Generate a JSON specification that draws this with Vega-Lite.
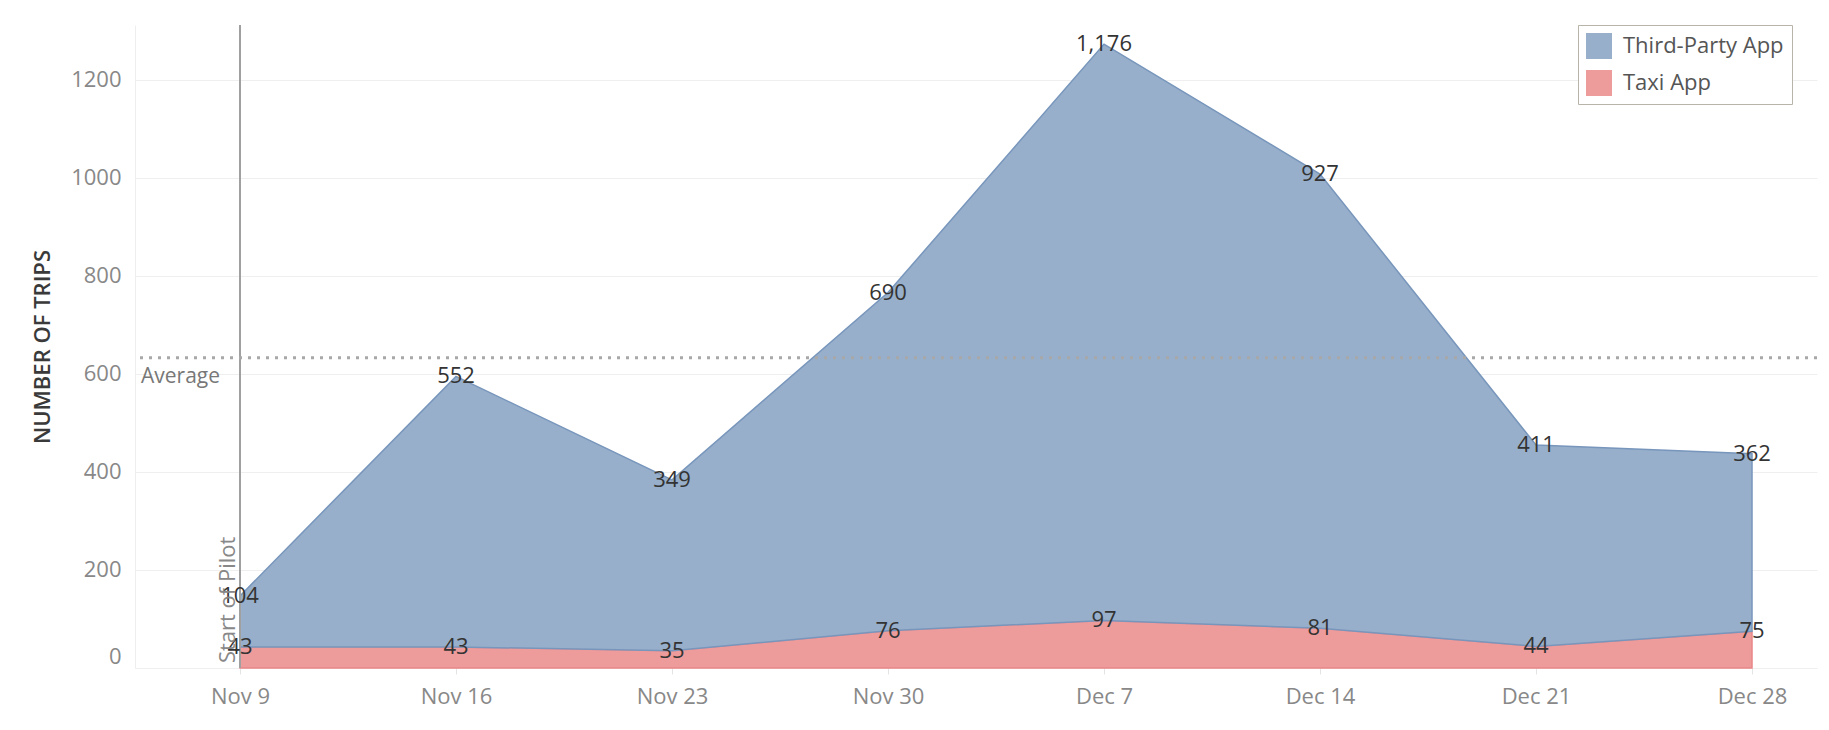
{
  "$schema": "https://vega.github.io/schema/vega-lite/v6.json",
  "width": 1682,
  "height": 643,
  "autosize": {"type": "none"},
  "padding": {"left": 135, "top": 25, "right": 12, "bottom": 62},
  "background": "white",
  "config": {"font": "Open Sans", "view": {"stroke": null}},
  "datasets": {
    "trips": [
      {"week": "2014-11-09", "app": "Taxi App", "trips": 43},
      {"week": "2014-11-16", "app": "Taxi App", "trips": 43},
      {"week": "2014-11-23", "app": "Taxi App", "trips": 35},
      {"week": "2014-11-30", "app": "Taxi App", "trips": 76},
      {"week": "2014-12-07", "app": "Taxi App", "trips": 97},
      {"week": "2014-12-14", "app": "Taxi App", "trips": 81},
      {"week": "2014-12-21", "app": "Taxi App", "trips": 44},
      {"week": "2014-12-28", "app": "Taxi App", "trips": 75},
      {"week": "2014-11-09", "app": "Third-Party App", "trips": 104},
      {"week": "2014-11-16", "app": "Third-Party App", "trips": 552},
      {"week": "2014-11-23", "app": "Third-Party App", "trips": 349},
      {"week": "2014-11-30", "app": "Third-Party App", "trips": 690},
      {"week": "2014-12-07", "app": "Third-Party App", "trips": 1176},
      {"week": "2014-12-14", "app": "Third-Party App", "trips": 927},
      {"week": "2014-12-21", "app": "Third-Party App", "trips": 411},
      {"week": "2014-12-28", "app": "Third-Party App", "trips": 362}
    ],
    "pilot": [{"week": "2014-11-09", "label": "Start of Pilot"}]
  },
  "layer": [
    {
      "data": {"name": "trips"},
      "mark": {"type": "area", "strokeWidth": 1.5, "opacity": 1},
      "encoding": {
        "x": {
          "field": "week",
          "type": "temporal",
          "scale": {
            "type": "utc",
            "domain": [
              {"year": 2014, "month": 11, "date": 5, "hours": 14, "minutes": 20, "utc": true},
              {"year": 2014, "month": 12, "date": 30, "hours": 2, "minutes": 33, "utc": true}
            ]
          },
          "axis": {
            "title": null,
            "values": [
              {"year": 2014, "month": 11, "date": 9, "utc": true},
              {"year": 2014, "month": 11, "date": 16, "utc": true},
              {"year": 2014, "month": 11, "date": 23, "utc": true},
              {"year": 2014, "month": 11, "date": 30, "utc": true},
              {"year": 2014, "month": 12, "date": 7, "utc": true},
              {"year": 2014, "month": 12, "date": 14, "utc": true},
              {"year": 2014, "month": 12, "date": 21, "utc": true},
              {"year": 2014, "month": 12, "date": 28, "utc": true}
            ],
            "labelExpr": "utcFormat(datum.value, '%b %-d')",
            "labelFontSize": 22,
            "labelColor": "#888888",
            "labelPadding": 12,
            "tickSize": 6,
            "tickColor": "#e4e4e4",
            "domain": false,
            "grid": false
          }
        },
        "y": {
          "field": "trips",
          "type": "quantitative",
          "stack": "zero",
          "scale": {"domain": [0, 1312], "nice": false},
          "axis": {
            "title": "NUMBER OF TRIPS",
            "titleFontSize": 22,
            "titleFontWeight": 600,
            "titleColor": "#3a3a3a",
            "titlePadding": 16,
            "values": [0, 200, 400, 600, 800, 1000, 1200],
            "format": "d",
            "labelFontSize": 22,
            "labelColor": "#888888",
            "labelPadding": 14,
            "labelFlush": true,
            "ticks": false,
            "domain": true,
            "domainColor": "#eeeeee",
            "grid": true,
            "gridColor": "#efefef"
          }
        },
        "order": {"field": "app", "sort": "ascending"},
        "fill": {
          "field": "app",
          "type": "nominal",
          "scale": {"domain": ["Third-Party App", "Taxi App"], "range": ["#97afca", "#ee9b9c"]},
          "legend": {
            "title": null,
            "orient": "none",
            "legendX": 1443,
            "legendY": 0,
            "direction": "vertical",
            "symbolType": "square",
            "symbolSize": 676,
            "symbolStrokeWidth": 0,
            "labelFontSize": 22,
            "labelLimit": 400,
            "labelColor": "#555555",
            "labelOffset": 11,
            "rowPadding": 11,
            "padding": 8,
            "strokeColor": "#b8b4aa",
            "fillColor": "white"
          }
        },
        "stroke": {
          "field": "app",
          "type": "nominal",
          "scale": {"domain": ["Third-Party App", "Taxi App"], "range": ["#7896bc", "#e98788"]},
          "legend": null
        }
      }
    },
    {
      "data": {"name": "pilot"},
      "mark": {"type": "rule", "color": "#a0a0a0", "strokeWidth": 2},
      "encoding": {"x": {"field": "week", "type": "temporal"}}
    },
    {
      "data": {"name": "trips"},
      "transform": [
        {"aggregate": [{"op": "sum", "field": "trips", "as": "total"}], "groupby": ["week"]},
        {"aggregate": [{"op": "mean", "field": "total", "as": "avg"}]}
      ],
      "mark": {"type": "rule", "color": "#a8a8a8", "strokeWidth": 3, "strokeDash": [3, 6]},
      "encoding": {"y": {"field": "avg", "type": "quantitative"}}
    },
    {
      "data": {"name": "trips"},
      "transform": [
        {"aggregate": [{"op": "sum", "field": "trips", "as": "total"}], "groupby": ["week"]},
        {"aggregate": [{"op": "mean", "field": "total", "as": "avg"}]}
      ],
      "mark": {"type": "text", "align": "left", "baseline": "middle", "dx": 6, "dy": 19, "fontSize": 21, "color": "#777777"},
      "encoding": {
        "x": {"datum": {"year": 2014, "month": 11, "date": 5, "hours": 14, "minutes": 20, "utc": true}, "type": "temporal"},
        "y": {"field": "avg", "type": "quantitative"},
        "text": {"value": "Average"}
      }
    },
    {
      "data": {"name": "trips"},
      "mark": {"type": "text", "baseline": "middle", "fontSize": 22, "color": "#333333"},
      "encoding": {
        "x": {"field": "week", "type": "temporal"},
        "y": {"field": "trips", "type": "quantitative", "stack": "zero"},
        "order": {"field": "app", "sort": "ascending"},
        "detail": {"field": "app", "type": "nominal"},
        "text": {"field": "trips", "type": "quantitative", "format": ","}
      }
    },
    {
      "data": {"name": "pilot"},
      "mark": {"type": "text", "angle": 270, "align": "left", "baseline": "bottom", "fontSize": 22, "color": "#888888"},
      "encoding": {
        "x": {"field": "week", "type": "temporal"},
        "y": {"datum": 10, "type": "quantitative"},
        "text": {"field": "label"}
      }
    }
  ]
}
